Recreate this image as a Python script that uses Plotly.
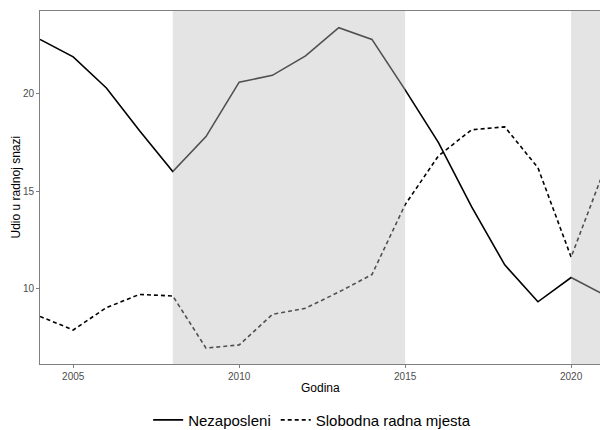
import plotly.graph_objects as go

years = list(range(2004, 2022))
nezaposleni = [22.8, 21.9, 20.3, 18.1, 16.0, 17.8, 20.6, 20.95, 21.95, 23.4, 22.8,
               20.2, 17.5, 14.2, 11.2, 9.3, 10.55, 9.65]
slobodna = [8.55, 7.85, 9.0, 9.68, 9.6, 6.92, 7.08, 8.65, 8.97, 9.8, 10.7,
            14.3, 16.8, 18.15, 18.3, 16.2, 11.6, 16.1]
shade_periods = [(2008, 2015), (2020, 2022)]

fig = go.Figure()
fig.add_trace(go.Scatter(x=years, y=nezaposleni, mode="lines", name="Nezaposleni",
                         line=dict(color="black", width=1.6)))
fig.add_trace(go.Scatter(x=years, y=slobodna, mode="lines", name="Slobodna radna mjesta",
                         line=dict(color="black", width=1.6, dash="4px,3px")))

for x0, x1 in shade_periods:
    fig.add_shape(type="rect", xref="x", yref="paper", x0=x0, x1=x1, y0=0, y1=1,
                  fillcolor="rgba(190,190,190,0.42)", line=dict(width=0), layer="above")

axis_common = dict(showgrid=False, zeroline=False, showline=True, linecolor="#7f7f7f",
                   linewidth=1, mirror=True, ticks="outside", ticklen=3, tickcolor="#7f7f7f",
                   tickfont=dict(size=10, color="#4d4d4d"), automargin=False)

fig.add_annotation(text="Udio u radnoj snazi", xref="paper", yref="paper",
                   x=-0.0446, y=0.5, xanchor="center", yanchor="middle", textangle=-90,
                   showarrow=False, font=dict(size=12, color="black"))
fig.add_annotation(text="Godina", xref="paper", yref="paper",
                   x=0.5, y=-0.068, xanchor="center", yanchor="middle",
                   showarrow=False, font=dict(size=12, color="black"))

fig.update_layout(
    width=600, height=430,
    margin=dict(l=40, r=0, t=11, b=66, pad=0, autoexpand=False),
    plot_bgcolor="white", paper_bgcolor="white",
    font=dict(family="Liberation Sans, Arial, sans-serif", color="black"),
    xaxis=dict(range=[2004, 2020.87], tickvals=[2005, 2010, 2015, 2020], **axis_common),
    yaxis=dict(range=[6.1, 24.26], tickvals=[10, 15, 20], **axis_common),
    showlegend=True,
    legend=dict(orientation="h", x=0.486, xanchor="center", y=-0.159, yanchor="middle",
                font=dict(size=15, color="black"), itemwidth=30),
)

fig.write_html("out.html", config={"displayModeBar": False},
               post_script="document.body.style.margin='0';document.body.style.overflow='hidden';")
